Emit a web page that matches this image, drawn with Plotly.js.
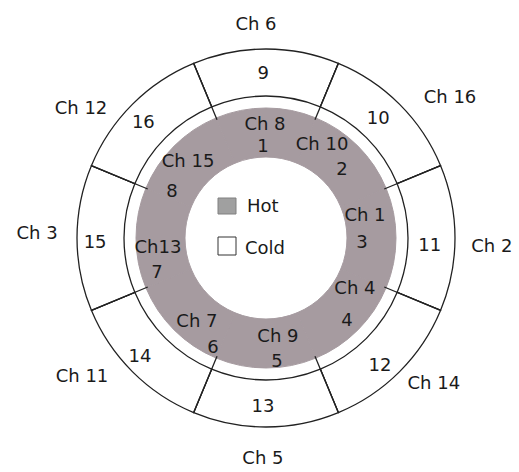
<!DOCTYPE html>
<html>
<head>
<meta charset="utf-8">
<script src="https://cdn.plot.ly/plotly-3.0.1.min.js"></script>
<style>html,body{margin:0;padding:0;background:#fff;}#chart{width:519px;height:472px;}</style>
</head>
<body>
<div id="chart"></div>
<script>
// ---- data ----
const coldNumbers = ['9', '10', '11', '12', '13', '14', '15', '16'];
const coldChannels = ['Ch 6', 'Ch 16', 'Ch 2', 'Ch 14', 'Ch 5', 'Ch 11', 'Ch 3', 'Ch 12'];
const hotNumbers = ['1', '2', '3', '4', '5', '6', '7', '8'];
const hotChannels = ['Ch 8', 'Ch 10', 'Ch 1', 'Ch 4', 'Ch 9', 'Ch 7', 'Ch13', 'Ch 15'];
const legendLabels = ['Hot', 'Cold'];

// ---- layout geometry (pixel-based radial units) ----
const W = 519, H = 472;
const CX = 266, CY = 238, RMAX = 232;
const segAngle = 360 / coldNumbers.length;
const segCenters = coldNumbers.map((_, i) => i * segAngle);
const coldBase = 142, coldOuter = 189;
const hotBase = 81, hotOuter = 130;
const dividerInner = 128;

// label placements (r, theta)
const coldChR = [213, 231, 226, 223, 222, 231, 229, 225];
const coldChT = [357.3, 52.8, 92.5, 131.2, 180.8, 232.8, 270.8, 304.7];
const coldNumR = [164, 163, 164, 172, 170, 174, 171, 168];
const coldNumT = [359, 43.5, 93.1, 138.5, 181, 226.4, 268.3, 313.1];
const hotChR = [113, 108.6, 101.4, 103, 100.7, 109.5, 108.5, 108.2];
const hotChT = [359.5, 31.1, 77.5, 120.3, 173.2, 219.1, 264.7, 313.9];
const hotNumR = [91, 102, 96.1, 116.7, 124.5, 122.1, 114.5, 104.2];
const hotNumT = [358.1, 48.2, 93, 136, 174.9, 205.7, 252.2, 295.6];

const FONT = {family: 'DejaVu Sans, Verdana, sans-serif', size: 18, color: '#1a1a1a'};
const HOT_COLOR = 'rgb(166,155,160)';

const divR = [], divT = [];
segCenters.forEach(c => {
  const a = c + segAngle / 2;
  divR.push(dividerInner, coldOuter, null);
  divT.push(a, a, null);
});

const traces = [
  {
    type: 'barpolar', theta: segCenters, r: hotNumbers.map(() => hotOuter - hotBase),
    base: hotBase, width: segAngle,
    marker: {color: HOT_COLOR, line: {color: HOT_COLOR, width: 1}},
    hoverinfo: 'skip', showlegend: false
  },
  {
    type: 'barpolar', theta: segCenters, r: coldNumbers.map(() => coldOuter - coldBase),
    base: coldBase, width: segAngle,
    marker: {color: '#ffffff', line: {color: '#222', width: 1.3}},
    hoverinfo: 'skip', showlegend: false
  },
  {
    type: 'scatterpolar', mode: 'lines', r: divR, theta: divT, connectgaps: false,
    line: {color: '#222', width: 1.3}, hoverinfo: 'skip', showlegend: false
  },
  {
    type: 'scatterpolar', mode: 'text', r: coldChR, theta: coldChT, text: coldChannels,
    textposition: 'middle center', textfont: FONT, cliponaxis: false, hoverinfo: 'skip', showlegend: false
  },
  {
    type: 'scatterpolar', mode: 'text', r: coldNumR, theta: coldNumT, text: coldNumbers,
    textposition: 'middle center', textfont: FONT, cliponaxis: false, hoverinfo: 'skip', showlegend: false
  },
  {
    type: 'scatterpolar', mode: 'text', r: hotChR, theta: hotChT, text: hotChannels,
    textposition: 'middle center', textfont: FONT, cliponaxis: false, hoverinfo: 'skip', showlegend: false
  },
  {
    type: 'scatterpolar', mode: 'text', r: hotNumR, theta: hotNumT, text: hotNumbers,
    textposition: 'middle center', textfont: FONT, cliponaxis: false, hoverinfo: 'skip', showlegend: false
  }
];

const px = x => x / W;
const py = y => (H - y) / H;

const layout = {
  width: W, height: H, autosize: false,
  margin: {l: 0, r: 0, t: 0, b: 0, pad: 0},
  paper_bgcolor: '#ffffff',
  showlegend: false,
  font: FONT,
  polar: {
    domain: {x: [px(CX - RMAX), px(CX + RMAX)], y: [py(CY + RMAX), py(CY - RMAX)]},
    bgcolor: 'rgba(0,0,0,0)',
    bargap: 0,
    radialaxis: {visible: false, range: [0, RMAX]},
    angularaxis: {visible: false, rotation: 90, direction: 'clockwise'}
  },
  shapes: [
    {type: 'rect', xref: 'paper', yref: 'paper', x0: px(218), x1: px(236), y0: py(214), y1: py(198),
     fillcolor: '#a0a0a0', line: {color: '#808080', width: 1}},
    {type: 'rect', xref: 'paper', yref: 'paper', x0: px(218), x1: px(236), y0: py(255), y1: py(237),
     fillcolor: '#ffffff', line: {color: '#333', width: 1}}
  ],
  annotations: [
    {xref: 'paper', yref: 'paper', x: px(245), y: py(206), text: legendLabels[0], showarrow: false,
     xanchor: 'left', yanchor: 'middle', font: FONT},
    {xref: 'paper', yref: 'paper', x: px(243), y: py(247), text: legendLabels[1], showarrow: false,
     xanchor: 'left', yanchor: 'middle', font: FONT}
  ]
};

Plotly.newPlot('chart', traces, layout, {displayModeBar: false, staticPlot: true});
</script>
</body>
</html>
